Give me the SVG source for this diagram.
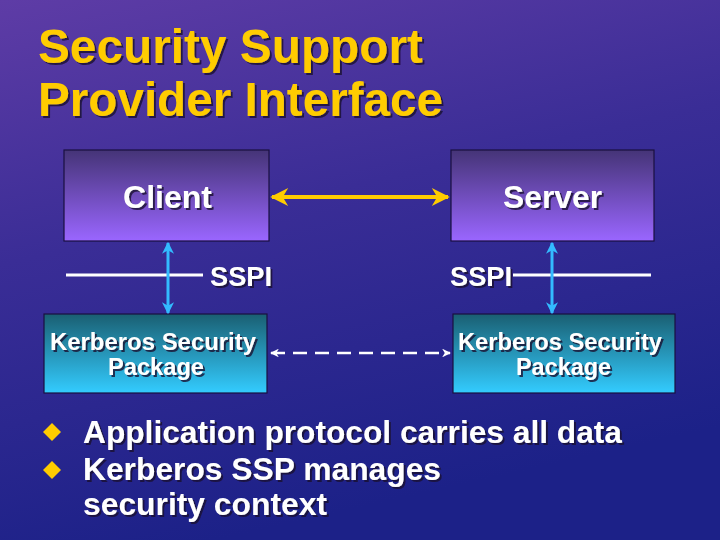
<svg xmlns="http://www.w3.org/2000/svg" width="720" height="540" viewBox="0 0 720 540">
<defs>
<linearGradient id="bg" x1="0" y1="0" x2="0.3" y2="1">
<stop offset="0" stop-color="#5e3ca6"/>
<stop offset="0.45" stop-color="#3a2d96"/>
<stop offset="1" stop-color="#1c2188"/>
</linearGradient>
<linearGradient id="purple" x1="0" y1="0" x2="0" y2="1">
<stop offset="0" stop-color="#453477"/>
<stop offset="1" stop-color="#9a66ff"/>
</linearGradient>
<linearGradient id="teal" x1="0" y1="0" x2="0" y2="1">
<stop offset="0" stop-color="#1a5f72"/>
<stop offset="1" stop-color="#33ccff"/>
</linearGradient>
<marker id="ay" viewBox="0 0 10 10" refX="9" refY="5" markerWidth="5.5" markerHeight="4.5" orient="auto-start-reverse" markerUnits="strokeWidth">
<path d="M0,0 L10,5 L0,10 L3,5 Z" fill="#ffcc00"/>
</marker>
<marker id="ab" viewBox="0 0 10 10" refX="9" refY="5" markerWidth="5.5" markerHeight="4" orient="auto-start-reverse" markerUnits="strokeWidth">
<path d="M0,0 L10,5 L0,10 L3,5 Z" fill="#33bbff"/>
</marker>
<marker id="aw" viewBox="0 0 10 10" refX="9" refY="5" markerWidth="4" markerHeight="3.5" orient="auto-start-reverse" markerUnits="strokeWidth">
<path d="M0,0 L10,5 L0,10 L3,5 Z" fill="#ffffff"/>
</marker>
<filter id="sh" x="-5%" y="-5%" width="110%" height="130%">
<feDropShadow dx="2" dy="2" stdDeviation="0.5" flood-color="#1a1030" flood-opacity="0.8"/>
</filter>
</defs>
<style>
text{font-family:"Liberation Sans",Arial,sans-serif;font-weight:bold;}
.title{font-size:47.5px;fill:#ffcc00;filter:url(#sh);}
.big{font-size:32px;fill:#ffffff;filter:url(#sh);}
.lbl{font-size:27px;fill:#ffffff;filter:url(#sh);}
.pkg{font-size:23.5px;fill:#ffffff;filter:url(#sh);}
.bul{font-size:31px;fill:#ffffff;filter:url(#sh);}
.box{stroke:#1a1040;stroke-width:1.2;}
</style>
<rect width="720" height="540" fill="url(#bg)"/>
<text class="title" x="38" y="63" textLength="385" lengthAdjust="spacingAndGlyphs">Security Support</text>
<text class="title" x="38" y="116" textLength="405" lengthAdjust="spacingAndGlyphs">Provider Interface</text>
<g id="client">
<rect class="box" x="64" y="150" width="205" height="91" fill="url(#purple)"/>
<text class="big" x="123" y="208" textLength="89" lengthAdjust="spacingAndGlyphs">Client</text>
</g>
<g id="server">
<rect class="box" x="451" y="150" width="203" height="91" fill="url(#purple)"/>
<text class="big" x="503" y="208" textLength="99" lengthAdjust="spacingAndGlyphs">Server</text>
</g>
<g id="kerb-client">
<rect class="box" x="44" y="314" width="223" height="79" fill="url(#teal)"/>
<text class="pkg" x="50" y="350" textLength="206" lengthAdjust="spacingAndGlyphs">Kerberos Security</text>
<text class="pkg" x="108" y="375" textLength="96" lengthAdjust="spacingAndGlyphs">Package</text>
</g>
<g id="kerb-server">
<rect class="box" x="453" y="314" width="222" height="79" fill="url(#teal)"/>
<text class="pkg" x="458" y="350" textLength="204" lengthAdjust="spacingAndGlyphs">Kerberos Security</text>
<text class="pkg" x="516" y="375" textLength="95" lengthAdjust="spacingAndGlyphs">Package</text>
</g>
<g id="sspi-client">
<line x1="66" y1="275" x2="203" y2="275" stroke="#ffffff" stroke-width="3"/>
<text class="lbl" x="210" y="286" textLength="62" lengthAdjust="spacingAndGlyphs">SSPI</text>
</g>
<g id="sspi-server">
<line x1="513" y1="275" x2="651" y2="275" stroke="#ffffff" stroke-width="3"/>
<text class="lbl" x="450" y="286" textLength="62" lengthAdjust="spacingAndGlyphs">SSPI</text>
</g>
<g id="connectors">
<line x1="272" y1="197" x2="448" y2="197" stroke="#ffcc00" stroke-width="4" marker-start="url(#ay)" marker-end="url(#ay)"/>
<line x1="168" y1="243" x2="168" y2="313" stroke="#33bbff" stroke-width="3" marker-start="url(#ab)" marker-end="url(#ab)"/>
<line x1="552" y1="243" x2="552" y2="313" stroke="#33bbff" stroke-width="3" marker-start="url(#ab)" marker-end="url(#ab)"/>
<line x1="271" y1="353" x2="450" y2="353" stroke="#ffffff" stroke-width="2.5" stroke-dasharray="14,8" marker-start="url(#aw)" marker-end="url(#aw)"/>
</g>
<g id="bullets">
<path d="M52,423 L61,432 L52,441 L43,432 Z" fill="#ffcc00"/>
<path d="M52,461 L61,470 L52,479 L43,470 Z" fill="#ffcc00"/>
<text class="bul" x="83" y="443" textLength="539" lengthAdjust="spacingAndGlyphs">Application protocol carries all data</text>
<text class="bul" x="83" y="480" textLength="358" lengthAdjust="spacingAndGlyphs">Kerberos SSP manages</text>
<text class="bul" x="83" y="515" textLength="244" lengthAdjust="spacingAndGlyphs">security context</text>
</g>
</svg>
